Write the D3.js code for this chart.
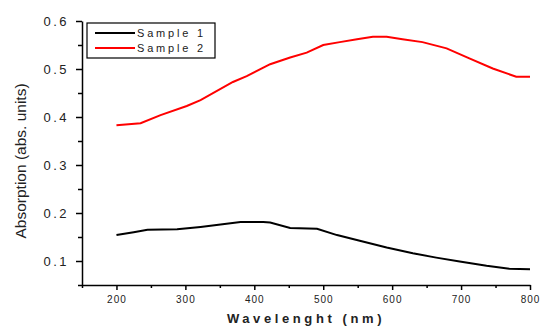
<!DOCTYPE html>
<html>
<head>
<meta charset="utf-8">
<script src="https://cdn.jsdelivr.net/npm/d3@7"></script>
<style>
  body { margin: 0; background: #fff; }
  text { font-family: "Liberation Sans", Arial, sans-serif; fill: #222; }
</style>
</head>
<body>
<div id="chart"></div>
<script>
const wavelength1 = [200, 225, 245, 288, 322, 351, 380, 413, 423, 452, 491, 520, 553, 592, 630, 664, 698, 737, 770, 800];
const sample1 = [0.154, 0.160, 0.165, 0.166, 0.171, 0.176, 0.181, 0.181, 0.180, 0.169, 0.167, 0.154, 0.142, 0.128, 0.116, 0.107, 0.099, 0.090, 0.084, 0.083];

const wavelength2 = [200, 235, 264, 302, 322, 369, 389, 423, 452, 476, 500, 524, 549, 572, 592, 615, 644, 679, 712, 746, 780, 800];
const sample2 = [0.383, 0.387, 0.404, 0.423, 0.435, 0.473, 0.485, 0.510, 0.524, 0.534, 0.550, 0.556, 0.562, 0.567, 0.567, 0.562, 0.556, 0.543, 0.522, 0.501, 0.484, 0.484];

const xTicks = [200, 300, 400, 500, 600, 700, 800];
const yTicks = [0.1, 0.2, 0.3, 0.4, 0.5, 0.6];
const seriesNames = ["Sample 1", "Sample 2"];
const seriesColors = ["#000000", "#ff0000"];

const W = 541, H = 327;
const margin = { top: 21, right: 11, bottom: 42, left: 82 };
const width = W - margin.left - margin.right;
const height = H - margin.top - margin.bottom;

const svg = d3.select('#chart').append('svg')
    .attr('width', W)
    .attr('height', H);

const g = svg.append('g')
    .attr('transform', `translate(${margin.left},${margin.top})`);

const x = d3.scaleLinear().domain([150, 800]).range([0, width]);
const y = d3.scaleLinear().domain([0.05, 0.6]).range([height, 0]);

// minor ticks
g.append('g')
    .attr('transform', `translate(0,${height})`)
    .call(d3.axisBottom(x).tickValues([150, 250, 350, 450, 550, 650, 750]).tickSize(3).tickFormat(''))
    .call(a => a.select('.domain').remove());
g.append('g')
    .call(d3.axisLeft(y).tickValues([0.05, 0.15, 0.25, 0.35, 0.45, 0.55]).tickSize(4).tickFormat(''))
    .call(a => a.select('.domain').remove());

// major axes
const xAxis = g.append('g')
    .attr('transform', `translate(0,${height})`)
    .call(d3.axisBottom(x).tickValues(xTicks).tickSize(5).tickSizeOuter(0).tickPadding(6).tickFormat(d3.format('d')));
xAxis.selectAll('text')
    .style('font-size', '10px')
    .style('letter-spacing', '1px');

const yAxis = g.append('g')
    .call(d3.axisLeft(y).tickValues(yTicks).tickSize(6).tickSizeOuter(0).tickPadding(7).tickFormat(d3.format('.1f')));
yAxis.selectAll('text')
    .style('font-size', '13px')
    .style('letter-spacing', '2.5px');

g.selectAll('.domain, .tick line').attr('stroke', '#000').attr('stroke-width', 1.5);

// lines
const line = d3.line()
    .x(d => x(d[0]))
    .y(d => y(d[1]));

const series = [
    d3.zip(wavelength1, sample1),
    d3.zip(wavelength2, sample2)
];

g.selectAll('.series')
    .data(series)
    .enter()
    .append('path')
    .attr('class', 'series')
    .attr('fill', 'none')
    .attr('stroke', (d, i) => seriesColors[i])
    .attr('stroke-width', 2)
    .attr('d', line);

// legend
const legend = svg.append('g').attr('transform', 'translate(87,23)');
legend.append('rect')
    .attr('width', 128).attr('height', 35)
    .attr('fill', '#fff').attr('stroke', '#000').attr('stroke-width', 1.2);
seriesNames.forEach((name, i) => {
    const ly = 10 + i * 15;
    legend.append('line')
        .attr('x1', 8).attr('x2', 48).attr('y1', ly).attr('y2', ly)
        .attr('stroke', seriesColors[i]).attr('stroke-width', 2);
    legend.append('text')
        .attr('x', 50).attr('y', ly + 4)
        .style('font-size', '11px')
        .style('letter-spacing', '2.8px')
        .text(name);
});

// axis titles
svg.append('text')
    .attr('x', 306).attr('y', 323)
    .attr('text-anchor', 'middle')
    .style('font-size', '13px')
    .style('letter-spacing', '3.6px')
    .style('font-weight', 'bold')
    .text('Wavelenght (nm)');

svg.append('text')
    .attr('transform', 'translate(26,161) rotate(-90)')
    .attr('text-anchor', 'middle')
    .style('font-size', '15.5px')
    .style('letter-spacing', '0px')
    .text('Absorption (abs. units)');
</script>
</body>
</html>
